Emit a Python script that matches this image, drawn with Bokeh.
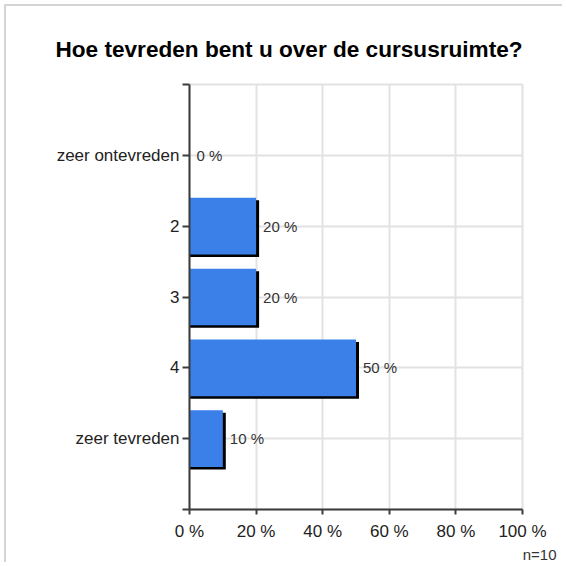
from bokeh.plotting import figure
from bokeh.models import Range1d, FixedTicker, Title, ColumnDataSource
from bokeh.core.properties import value
from bokeh.embed import file_html
from bokeh.resources import INLINE

# ---- data ----
categories = ["zeer ontevreden", "2", "3", "4", "zeer tevreden"]
percentages = [0, 20, 20, 50, 10]
x_ticks = [0, 20, 40, 60, 80, 100]
x_tick_labels = ["0 %", "20 %", "40 %", "60 %", "80 %", "100 %"]
title_text = "Hoe tevreden bent u over de cursusruimte?"
n_text = "n=10"

# ---- layout constants ----
FONT = "Liberation Sans"
FRAME_W, FRAME_H = 333, 425
BORDER_L, BORDER_R, BORDER_T, BORDER_B = 183, 42, 78, 55
n_slots = len(categories) + 1
x_px = FRAME_W / 100.0          # pixels per percent
y_px = FRAME_H / n_slots        # pixels per category slot

positions = list(range(1, len(categories) + 1))
labels = [f"{v} %" for v in percentages]

# drop shadow offsets (3px right, 2.5px down)
sh_dx = 3 / x_px
sh_dy = 2.5 / y_px
shadow_y = [pos + sh_dy for pos in positions]
shadow_right = [v + sh_dx if v > 0 else 0 for v in percentages]

p = figure(
    width=BORDER_L + FRAME_W + BORDER_R,
    height=BORDER_T + FRAME_H + BORDER_B,
    x_range=Range1d(0, 100),
    y_range=Range1d(n_slots, 0),
    output_backend="svg",
    toolbar_location=None,
    min_border_left=BORDER_L,
    min_border_right=BORDER_R,
    min_border_top=BORDER_T,
    min_border_bottom=BORDER_B,
    styles={
        "margin-left": "4px",
        "margin-top": "4px",
        "border-top": "2px solid #d4d4d4",
        "border-left": "2px solid #d4d4d4",
    },
)
p.background_fill_color = "white"
p.border_fill_color = "white"
p.outline_line_color = "#e2e2e2"
p.outline_line_width = 2

# title
p.title.text = title_text
p.title.align = "left"
p.title.offset = -134
p.title.standoff = 46
p.title.text_font = FONT
p.title.text_font_size = "22.6px"
p.title.text_font_style = "bold"
p.title.text_color = "black"

# grids
p.xgrid.ticker = FixedTicker(ticks=x_ticks)
p.ygrid.ticker = FixedTicker(ticks=list(range(0, n_slots + 1)))
for g in (p.xgrid, p.ygrid):
    g.grid_line_color = "#e2e2e2"
    g.grid_line_width = 2

# x axis
xa = p.xaxis[0]
xa.ticker = FixedTicker(ticks=x_ticks)
xa.major_label_overrides = {t: lab for t, lab in zip(x_ticks, x_tick_labels)}
xa.major_tick_out = 5
xa.major_tick_in = 0
xa.minor_tick_out = 0
xa.minor_tick_in = 0
xa.major_label_standoff = 7
xa.major_label_text_font = FONT
xa.major_label_text_font_size = "17px"
xa.major_label_text_color = "#222222"

# y axis
ya = p.yaxis[0]
y_ticks = list(range(0, n_slots + 1))
ya.ticker = FixedTicker(ticks=y_ticks)
overrides = {t: "" for t in y_ticks}
for pos, cat in zip(positions, categories):
    overrides[pos] = cat
ya.major_label_overrides = overrides
ya.major_tick_out = 7
ya.major_tick_in = 0
ya.minor_tick_out = 0
ya.minor_tick_in = 0
ya.major_label_standoff = 3
ya.major_label_text_font = FONT
ya.major_label_text_font_size = "17px"
ya.major_label_text_color = "#222222"

for ax in (xa, ya):
    ax.axis_line_color = "#3c3c3c"
    ax.axis_line_width = 2
    ax.major_tick_line_color = "#3c3c3c"
    ax.major_tick_line_width = 2

# bars
p.hbar(y=shadow_y, left=0, right=shadow_right, height=0.8,
       fill_color="black", line_color=None)
src = ColumnDataSource(dict(y=positions, right=percentages, label=labels))
p.hbar(y="y", left=0, right="right", height=0.8, source=src,
       fill_color="#3b80e9", line_color=None)
p.text(x="right", y="y", text="label", source=src, x_offset=7,
       text_baseline="middle", text_align="left",
       text_font=value(FONT), text_font_size="15px", text_color="#333333")

# n label below the axis
n_title = Title(text=n_text, align="right", offset=-34, standoff=0,
                text_font=FONT, text_font_size="15px",
                text_font_style="normal", text_color="#333333")
p.add_layout(n_title, "below")

open("out.html", "w").write(file_html(p, INLINE))
